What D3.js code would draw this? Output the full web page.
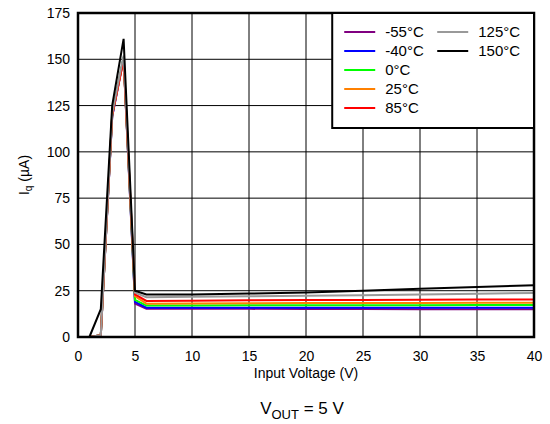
<!DOCTYPE html>
<html>
<head>
<meta charset="utf-8">
<script src="https://cdn.jsdelivr.net/npm/d3@7"></script>
<style>
  body { margin: 0; background: #fff; }
  text { font-family: "Liberation Sans", Arial, sans-serif; }
</style>
</head>
<body>
<div id="chart"></div>
<script>
// input voltage (V)
var vin = [1, 2, 3, 4, 5, 6, 10, 15, 20, 25, 30, 35, 40];

// quiescent current (uA) per temperature
var temps = ["-55°C", "-40°C", "0°C", "25°C", "85°C", "125°C", "150°C"];
var colors = ["#800080", "#0000ff", "#00ff00", "#ff8000", "#ff0000", "#999999", "#000000"];
var iqM55 = [0, 1, 119, 150, 18, 15.3, 15.2, 15.2, 15.1, 15.1, 15, 15, 15];
var iqM40 = [0, 1, 119, 151, 19, 15.8, 15.8, 15.8, 15.8, 15.8, 15.8, 15.8, 15.8];
var iq0 = [0, 1, 120, 151, 20, 17, 17, 17.1, 17.1, 17.2, 17.2, 17.3, 17.3];
var iq25 = [0, 1, 120, 150, 22, 18, 18.1, 18.2, 18.3, 18.4, 18.4, 18.5, 18.5];
var iq85 = [0, 1, 120, 150, 23, 19.5, 19.6, 19.8, 20, 20, 20.1, 20.2, 20.3];
var iq125 = [0, 1, 121, 152, 24, 21.5, 21.7, 22, 22.3, 22.6, 23, 23.4, 23.8];
var iq150 = [0, 15, 125, 161, 25, 23, 23, 23.5, 24, 25, 26, 27, 28];
var series = [iqM55, iqM40, iq0, iq25, iq85, iq125, iq150];

var xTicks = [0, 5, 10, 15, 20, 25, 30, 35, 40];
var yTicks = [0, 25, 50, 75, 100, 125, 150, 175];

var margin = {top: 13, right: 16, bottom: 87, left: 78},
    W = 550, H = 424,
    width = W - margin.left - margin.right,
    height = H - margin.top - margin.bottom;

var svg = d3.select("#chart").append("svg")
    .attr("width", W)
    .attr("height", H);

var g = svg.append("g")
    .attr("transform", "translate(" + margin.left + "," + margin.top + ")");

var x = d3.scaleLinear().domain([0, 40]).range([0, width]);
var y = d3.scaleLinear().domain([0, 175]).range([height, 0]);

// grid
g.selectAll("line.vgrid").data(xTicks.slice(1, -1)).enter().append("line")
    .attr("x1", d => x(d)).attr("x2", d => x(d))
    .attr("y1", 0).attr("y2", height)
    .attr("stroke", "#000").attr("stroke-width", 1);
g.selectAll("line.hgrid").data(yTicks.slice(1, -1)).enter().append("line")
    .attr("x1", 0).attr("x2", width)
    .attr("y1", d => y(d)).attr("y2", d => y(d))
    .attr("stroke", "#000").attr("stroke-width", 1);

// axes (labels only)
var xAxis = g.append("g")
    .attr("transform", "translate(0," + height + ")")
    .call(d3.axisBottom(x).tickValues(xTicks).tickSize(0).tickPadding(14));
var yAxis = g.append("g")
    .call(d3.axisLeft(y).tickValues(yTicks).tickSize(0).tickPadding(8));
[xAxis, yAxis].forEach(function(a) {
    a.select(".domain").remove();
    a.selectAll("text")
        .attr("font-size", 14)
        .attr("fill", "#000")
        .style("font-family", "Liberation Sans, Arial, sans-serif");
});

// curves
var line = d3.line()
    .x(function(d, i) { return x(vin[i]); })
    .y(function(d) { return y(d); });

g.selectAll("path.curve").data(series).enter().append("path")
    .attr("fill", "none")
    .attr("stroke", (d, i) => colors[i])
    .attr("stroke-width", 2)
    .attr("stroke-linejoin", "miter")
    .attr("d", line);

// frame
g.append("rect")
    .attr("width", width).attr("height", height)
    .attr("fill", "none").attr("stroke", "#000").attr("stroke-width", 2.5);

// legend
var lg = g.append("g").attr("transform", "translate(" + (x(22.3)) + ",0)");
lg.append("rect")
    .attr("width", x(40) - x(22.3)).attr("height", 115)
    .attr("fill", "#fff").attr("stroke", "#000").attr("stroke-width", 2);
var items = lg.selectAll("g.item").data(temps).enter().append("g")
    .attr("transform", function(d, i) {
        var col = i < 5 ? 0 : 1, row = i < 5 ? i : i - 5;
        return "translate(" + (12 + col * 93) + "," + (19 + row * 19) + ")";
    });
items.append("line")
    .attr("x1", 0).attr("x2", 31)
    .attr("stroke", (d, i) => colors[i]).attr("stroke-width", 2);
items.append("text")
    .attr("x", 41).attr("dy", "0.36em")
    .attr("font-size", 15)
    .text(d => d);

// axis titles
svg.append("text")
    .attr("x", margin.left + width / 2).attr("y", 378)
    .attr("text-anchor", "middle").attr("font-size", 14)
    .text("Input Voltage (V)");

var yt = svg.append("text")
    .attr("transform", "translate(29," + (margin.top + height / 2) + ") rotate(-90)")
    .attr("text-anchor", "middle").attr("font-size", 14);
yt.append("tspan").text("I");
yt.append("tspan").attr("font-size", 10).attr("dy", 3).text("q");
yt.append("tspan").attr("dy", -3).text(" (µA)");

var cap = svg.append("text")
    .attr("x", margin.left + width / 2 - 4).attr("y", 414)
    .attr("text-anchor", "middle").attr("font-size", 17);
cap.append("tspan").text("V");
cap.append("tspan").attr("font-size", 13).attr("dy", 5).text("OUT");
cap.append("tspan").attr("dy", -5).text(" = 5 V");
</script>
</body>
</html>
